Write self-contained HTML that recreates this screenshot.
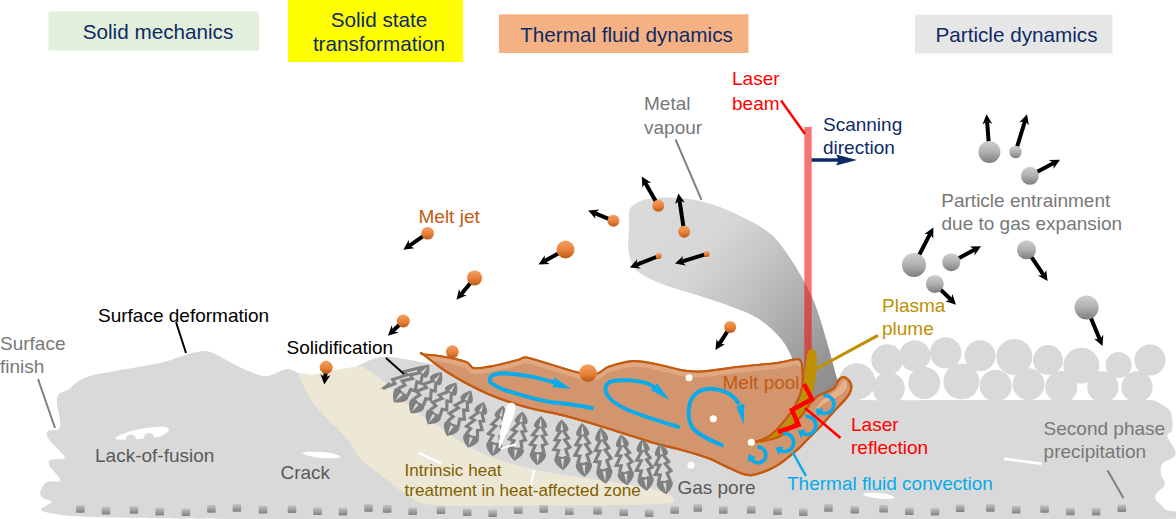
<!DOCTYPE html><html><head><meta charset="utf-8"><style>html,body{margin:0;padding:0;background:#fff;overflow:hidden;}svg{display:block;font-family:"Liberation Sans",sans-serif;}</style></head><body>
<svg width="1176" height="519" viewBox="0 0 1176 519">
<rect width="1176" height="519" fill="#fff"/>
<defs>
<radialGradient id="gball" cx="0.45" cy="0.3" r="0.75">
<stop offset="0" stop-color="#d0d0d0"/><stop offset="0.55" stop-color="#b4b4b4"/><stop offset="1" stop-color="#7a7a7a"/></radialGradient>
<linearGradient id="gball2" x1="0" y1="0" x2="0" y2="1">
<stop offset="0" stop-color="#cfcfcf"/><stop offset="0.5" stop-color="#b0b0b0"/><stop offset="1" stop-color="#7d7d7d"/></linearGradient>
<linearGradient id="oball" x1="0" y1="0" x2="0" y2="1">
<stop offset="0" stop-color="#f4a060"/><stop offset="0.55" stop-color="#e9803a"/><stop offset="1" stop-color="#b85a18"/></linearGradient>
<linearGradient id="sq" x1="0" y1="0" x2="0" y2="1">
<stop offset="0" stop-color="#c4c4c4"/><stop offset="1" stop-color="#808080"/></linearGradient>
<linearGradient id="plume" x1="0.15" y1="0.1" x2="0.9" y2="0.85">
<stop offset="0" stop-color="#dadada"/><stop offset="0.22" stop-color="#d6d6d6"/><stop offset="0.45" stop-color="#c2c2c2"/><stop offset="0.72" stop-color="#a6a6a6"/><stop offset="0.9" stop-color="#939393"/><stop offset="1" stop-color="#8a8a8a"/></linearGradient>
<linearGradient id="pool" x1="0" y1="0" x2="0" y2="1">
<stop offset="0" stop-color="#e3aa80"/><stop offset="0.3" stop-color="#d39670"/><stop offset="1" stop-color="#d09570"/></linearGradient>
<marker id="ah" viewBox="0 0 10 10" refX="2" refY="5" markerWidth="3" markerHeight="3" orient="auto"><path d="M0,0 L10,5 L0,10 z" fill="#000"/></marker>
</defs>
<rect x="48.5" y="11.5" width="210.5" height="39" fill="#e2efda"/>
<text x="158" y="39" font-size="20.7" fill="#0e2a66" text-anchor="middle" >Solid mechanics</text>
<rect x="288" y="0" width="175" height="62" fill="#ffff00"/>
<text x="379" y="26.5" font-size="20.7" fill="#0e2a66" text-anchor="middle" >Solid state</text>
<text x="379" y="51" font-size="20.7" fill="#0e2a66" text-anchor="middle" >transformation</text>
<rect x="499" y="14.3" width="249.5" height="38.7" fill="#f4b183"/>
<text x="626.5" y="42" font-size="20.7" fill="#0e2a66" text-anchor="middle" >Thermal fluid dynamics</text>
<rect x="915" y="14.6" width="197.5" height="38.8" fill="#e7e6e6"/>
<text x="1016.5" y="42" font-size="20.7" fill="#0e2a66" text-anchor="middle" >Particle dynamics</text>
<path d="M58.9,394.3 C60.8,391.9 65.6,391.4 68.5,389.5 C71.4,387.6 72.6,384.9 76.2,382.7 C79.8,380.4 83.0,378.0 90.0,376.0 C97.0,374.0 106.0,372.8 118.0,370.5 C130.0,368.2 150.8,365.1 162.0,362.5 C173.2,359.9 178.7,356.8 185.0,355.0 C191.3,353.2 195.3,351.8 200.0,351.5 C204.7,351.2 206.2,350.3 213.0,353.0 C219.8,355.7 232.0,363.8 240.5,367.6 C249.0,371.4 258.1,375.1 264.0,376.0 C269.9,376.9 272.0,374.2 276.0,373.0 C280.0,371.8 283.7,368.8 288.0,369.0 C292.3,369.2 297.5,373.2 302.0,374.4 C306.5,375.6 308.8,376.1 315.0,376.0 C321.2,375.9 329.3,376.8 339.0,374.0 C348.7,371.2 364.5,361.8 373.0,359.0 C381.5,356.2 381.5,356.4 390.0,357.0 C398.5,357.6 410.7,360.3 424.0,362.5 C437.3,364.7 440.7,367.1 470.0,370.0 C499.3,372.9 546.7,379.7 600.0,380.0 C653.3,380.3 749.0,371.2 790.0,372.0 C831.0,372.8 835.7,380.5 846.0,385.0 C856.3,389.5 834.7,396.5 852.0,399.0 C869.3,401.5 908.7,399.8 950.0,400.0 C991.3,400.2 1066.9,400.0 1100.0,400.0 C1133.1,400.0 1138.3,399.2 1148.7,400.0 C1159.1,400.8 1158.6,402.9 1162.3,405.0 C1166.0,407.1 1169.3,408.3 1171.0,412.4 C1172.7,416.5 1172.9,425.9 1172.3,429.8 C1171.7,433.7 1166.9,432.7 1167.3,436.0 C1167.7,439.3 1173.7,446.2 1174.8,449.7 C1175.9,453.2 1176.1,454.7 1174.0,457.0 C1171.9,459.3 1164.5,460.5 1162.3,463.4 C1160.1,466.3 1160.6,471.1 1161.0,474.6 C1161.4,478.1 1165.8,480.8 1164.8,484.5 C1163.8,488.2 1154.9,492.9 1154.9,497.0 C1154.9,501.1 1163.3,505.7 1164.8,509.4 C1166.2,513.1 1307.7,517.4 1163.6,519.0 C1019.5,520.6 472.3,519.2 300.0,519.0 C127.7,518.8 165.6,518.1 130.0,517.7 C94.4,517.3 98.7,517.2 86.7,516.7 C74.8,516.2 65.9,515.6 58.3,514.4 C50.7,513.2 42.1,511.8 41.0,509.7 C39.9,507.6 51.5,504.1 51.7,502.0 C51.9,499.9 44.2,499.1 42.3,497.4 C40.4,495.7 39.6,494.3 40.4,491.7 C41.2,489.1 43.7,483.7 47.0,482.0 C50.3,480.3 58.5,482.5 60.2,481.3 C61.9,480.1 58.2,476.9 57.0,475.0 C55.8,473.1 54.0,471.6 52.7,470.0 C51.4,468.4 49.7,467.3 49.3,465.6 C48.9,463.9 47.6,461.1 50.2,459.8 C52.8,458.5 63.9,460.1 64.7,457.9 C65.5,455.6 57.9,449.8 55.0,446.3 C52.1,442.8 48.4,439.3 47.3,436.7 C46.2,434.1 46.4,432.2 48.3,430.9 C50.2,429.6 57.0,430.9 58.9,429.0 C60.8,427.1 60.2,423.5 59.9,419.3 C59.6,415.1 57.2,408.1 57.0,403.9 C56.8,399.7 57.0,396.7 58.9,394.3 Z" fill="#d9d9d9"/>
<circle cx="887" cy="360" r="15.7" fill="#d9d9d9"/>
<circle cx="914.9" cy="355.7" r="15.5" fill="#d9d9d9"/>
<circle cx="945.7" cy="352.9" r="15.7" fill="#d9d9d9"/>
<circle cx="980" cy="355.7" r="15.5" fill="#d9d9d9"/>
<circle cx="1014.3" cy="357" r="18" fill="#d9d9d9"/>
<circle cx="1048" cy="360" r="15" fill="#d9d9d9"/>
<circle cx="1081.4" cy="365.7" r="18" fill="#d9d9d9"/>
<circle cx="1118.6" cy="365" r="13" fill="#d9d9d9"/>
<circle cx="1150" cy="360" r="15.5" fill="#d9d9d9"/>
<circle cx="857" cy="381.4" r="18" fill="#d9d9d9"/>
<circle cx="888.6" cy="388.6" r="16" fill="#d9d9d9"/>
<circle cx="924.3" cy="382.9" r="16" fill="#d9d9d9"/>
<circle cx="961.4" cy="381.4" r="18" fill="#d9d9d9"/>
<circle cx="995.7" cy="385.7" r="16" fill="#d9d9d9"/>
<circle cx="1028.6" cy="384.3" r="16" fill="#d9d9d9"/>
<circle cx="1061.4" cy="387" r="16" fill="#d9d9d9"/>
<circle cx="1102.9" cy="387" r="15.7" fill="#d9d9d9"/>
<circle cx="1137" cy="387" r="15.7" fill="#d9d9d9"/>
<path d="M299.2,373.5 C300.7,371.6 306.8,375.3 313.0,374.7 C319.2,374.1 328.5,371.4 336.2,370.0 C343.9,368.6 354.4,366.8 359.4,366.6 C364.4,366.4 363.2,367.3 366.3,369.0 C369.4,370.7 374.0,374.1 377.9,377.0 C381.8,379.9 385.5,382.7 389.4,386.2 C393.2,389.7 396.0,393.2 401.0,397.8 C406.0,402.4 413.0,409.1 419.5,414.0 C426.0,418.9 432.8,422.6 440.0,427.5 C447.2,432.4 455.4,439.0 463.0,443.6 C470.6,448.2 478.3,451.8 485.9,455.0 C493.5,458.2 501.2,460.7 508.8,463.0 C516.4,465.3 524.1,467.1 531.7,468.8 C539.4,470.5 547.1,472.1 554.7,473.4 C562.4,474.7 570.0,475.6 577.6,476.8 C585.2,478.0 592.9,479.2 600.5,480.3 C608.1,481.4 615.9,482.4 623.5,483.7 C631.1,485.0 639.1,486.8 646.4,488.3 C653.6,489.9 662.4,491.2 667.0,493.0 C671.6,494.8 674.2,497.2 674.0,499.0 C673.8,500.8 675.0,502.5 666.0,503.5 C657.0,504.5 644.7,504.7 620.0,505.0 C595.3,505.3 549.2,505.5 518.0,505.5 C486.8,505.5 451.2,506.6 433.0,505.0 C414.8,503.4 417.5,500.8 409.0,496.0 C400.5,491.2 389.9,482.0 382.0,476.0 C374.1,470.0 367.4,466.1 361.7,460.0 C356.0,453.9 353.2,445.9 347.8,439.4 C342.4,432.9 335.1,427.2 329.3,421.0 C323.5,414.8 317.3,408.2 313.1,402.4 C308.9,396.6 306.2,391.0 303.9,386.2 C301.6,381.4 297.7,375.4 299.2,373.5 Z" fill="#ede7d5"/>
<path d="M629,210 C634,203 642,199 655,198 C680,196 705,200 727,210 C750,220 765,228 775,238 C790,255 803,278 812,297 C820,315 828,345 838,382 L845,400 L770,445 L800,392 C798,370 790,350 782,340 C770,325 755,315 740,310 C720,302 700,296 680,290 C665,286 645,278 636,270 C626,258 628,240 629,228 Z" fill="url(#plume)"/>
<path d="M835,395 L860,395 L860,420 L835,420 Z" fill="#d9d9d9"/>
<circle cx="857" cy="381.4" r="18" fill="#d9d9d9"/>
<circle cx="888.6" cy="388.6" r="16" fill="#d9d9d9"/>
<path d="M423.5,354.5 C419.3,351.4 420.9,354.2 423.5,354.5 C426.1,354.8 431.9,354.8 439.0,356.0 C446.1,357.2 460.2,360.0 466.0,362.0 C471.8,364.0 469.4,367.5 473.6,368.2 C477.8,368.9 483.6,367.8 491.0,366.4 C498.4,365.0 512.2,361.5 518.0,360.0 C523.8,358.5 521.5,357.0 526.0,357.5 C530.5,358.0 536.1,360.2 545.0,362.8 C553.9,365.4 570.9,371.2 579.6,373.0 C588.4,374.8 592.6,374.5 597.5,373.5 C602.4,372.5 602.8,368.9 608.7,366.8 C614.6,364.8 625.2,361.7 633.0,361.2 C640.8,360.7 647.1,362.4 655.5,364.0 C663.9,365.6 675.8,369.4 683.5,370.6 C691.2,371.9 692.6,372.1 702.0,371.5 C711.4,370.9 727.2,368.2 739.7,366.8 C752.2,365.4 767.6,364.2 777.0,363.0 C786.4,361.8 791.8,359.6 795.8,359.4 C799.8,359.1 799.9,359.7 801.0,361.5 C802.1,363.3 802.2,366.2 802.5,370.0 C802.8,373.8 803.0,380.2 802.5,384.5 C802.0,388.8 801.2,391.9 799.6,396.0 C798.0,400.1 795.6,404.9 793.1,409.0 C790.6,413.1 787.4,417.0 784.5,420.6 C781.6,424.2 778.5,428.0 775.8,430.7 C773.0,433.4 771.2,435.2 768.0,437.0 C764.8,438.8 758.6,440.8 756.7,441.6 C754.8,442.4 754.5,442.0 756.7,441.6 C758.9,441.2 766.3,440.4 770.0,439.5 C773.7,438.6 776.1,438.0 779.0,436.5 C781.9,435.0 784.5,433.1 787.3,430.7 C790.1,428.3 793.4,424.9 796.0,422.0 C798.6,419.1 800.8,416.5 803.2,413.4 C805.6,410.3 808.1,406.1 810.5,403.2 C812.9,400.3 814.8,397.9 817.7,396.0 C820.6,394.1 825.2,392.9 828.0,391.5 C830.8,390.1 832.7,389.5 834.5,387.5 C836.3,385.5 837.5,381.2 839.0,379.5 C840.5,377.8 842.0,377.0 843.5,377.0 C845.0,377.0 846.7,378.1 848.0,379.5 C849.3,380.9 851.0,383.2 851.3,385.5 C851.6,387.8 850.8,390.7 849.8,393.0 C848.8,395.3 848.0,396.1 845.1,399.5 C842.2,402.9 836.4,408.7 832.1,413.4 C827.8,418.1 823.7,423.0 819.1,427.8 C814.5,432.6 808.6,438.4 804.7,442.3 C800.8,446.2 800.5,447.1 795.8,451.0 C791.1,454.9 782.8,462.2 776.3,466.0 C769.8,469.8 762.2,472.6 757.0,474.0 C751.8,475.4 750.3,475.8 745.0,474.5 C739.7,473.2 731.2,468.8 725.0,466.0 C718.8,463.2 715.5,460.8 708.0,458.0 C700.5,455.2 689.0,452.0 680.0,449.5 C671.0,447.0 667.3,446.9 654.0,443.0 C640.7,439.1 615.0,430.6 600.0,426.0 C585.0,421.4 576.4,418.7 564.0,415.5 C551.6,412.3 538.4,410.7 525.6,407.0 C512.8,403.3 499.9,399.2 487.0,393.5 C474.1,387.8 459.1,379.5 448.5,373.0 C437.9,366.5 427.7,357.6 423.5,354.5 Z" fill="#d3956d" stroke="#c55a11" stroke-width="2.2" stroke-linejoin="round"/>
<clipPath id="pclip"><path d="M423.5,354.5 C419.3,351.4 420.9,354.2 423.5,354.5 C426.1,354.8 431.9,354.8 439.0,356.0 C446.1,357.2 460.2,360.0 466.0,362.0 C471.8,364.0 469.4,367.5 473.6,368.2 C477.8,368.9 483.6,367.8 491.0,366.4 C498.4,365.0 512.2,361.5 518.0,360.0 C523.8,358.5 521.5,357.0 526.0,357.5 C530.5,358.0 536.1,360.2 545.0,362.8 C553.9,365.4 570.9,371.2 579.6,373.0 C588.4,374.8 592.6,374.5 597.5,373.5 C602.4,372.5 602.8,368.9 608.7,366.8 C614.6,364.8 625.2,361.7 633.0,361.2 C640.8,360.7 647.1,362.4 655.5,364.0 C663.9,365.6 675.8,369.4 683.5,370.6 C691.2,371.9 692.6,372.1 702.0,371.5 C711.4,370.9 727.2,368.2 739.7,366.8 C752.2,365.4 767.6,364.2 777.0,363.0 C786.4,361.8 791.8,359.6 795.8,359.4 C799.8,359.1 799.9,359.7 801.0,361.5 C802.1,363.3 802.2,366.2 802.5,370.0 C802.8,373.8 803.0,380.2 802.5,384.5 C802.0,388.8 801.2,391.9 799.6,396.0 C798.0,400.1 795.6,404.9 793.1,409.0 C790.6,413.1 787.4,417.0 784.5,420.6 C781.6,424.2 778.5,428.0 775.8,430.7 C773.0,433.4 771.2,435.2 768.0,437.0 C764.8,438.8 758.6,440.8 756.7,441.6 C754.8,442.4 754.5,442.0 756.7,441.6 C758.9,441.2 766.3,440.4 770.0,439.5 C773.7,438.6 776.1,438.0 779.0,436.5 C781.9,435.0 784.5,433.1 787.3,430.7 C790.1,428.3 793.4,424.9 796.0,422.0 C798.6,419.1 800.8,416.5 803.2,413.4 C805.6,410.3 808.1,406.1 810.5,403.2 C812.9,400.3 814.8,397.9 817.7,396.0 C820.6,394.1 825.2,392.9 828.0,391.5 C830.8,390.1 832.7,389.5 834.5,387.5 C836.3,385.5 837.5,381.2 839.0,379.5 C840.5,377.8 842.0,377.0 843.5,377.0 C845.0,377.0 846.7,378.1 848.0,379.5 C849.3,380.9 851.0,383.2 851.3,385.5 C851.6,387.8 850.8,390.7 849.8,393.0 C848.8,395.3 848.0,396.1 845.1,399.5 C842.2,402.9 836.4,408.7 832.1,413.4 C827.8,418.1 823.7,423.0 819.1,427.8 C814.5,432.6 808.6,438.4 804.7,442.3 C800.8,446.2 800.5,447.1 795.8,451.0 C791.1,454.9 782.8,462.2 776.3,466.0 C769.8,469.8 762.2,472.6 757.0,474.0 C751.8,475.4 750.3,475.8 745.0,474.5 C739.7,473.2 731.2,468.8 725.0,466.0 C718.8,463.2 715.5,460.8 708.0,458.0 C700.5,455.2 689.0,452.0 680.0,449.5 C671.0,447.0 667.3,446.9 654.0,443.0 C640.7,439.1 615.0,430.6 600.0,426.0 C585.0,421.4 576.4,418.7 564.0,415.5 C551.6,412.3 538.4,410.7 525.6,407.0 C512.8,403.3 499.9,399.2 487.0,393.5 C474.1,387.8 459.1,379.5 448.5,373.0 C437.9,366.5 427.7,357.6 423.5,354.5 Z"/></clipPath>
<path d="M423.5,357.7 C426.1,357.9 431.9,357.9 439.0,359.2 C446.1,360.4 460.2,363.2 466.0,365.2 C471.8,367.2 469.4,370.7 473.6,371.4 C477.8,372.1 483.6,371.0 491.0,369.6 C498.4,368.2 512.2,364.7 518.0,363.2 C523.8,361.7 521.5,360.2 526.0,360.7 C530.5,361.2 536.1,363.4 545.0,366.0 C553.9,368.6 570.9,374.4 579.6,376.2 C588.4,378.0 592.6,377.7 597.5,376.7 C602.4,375.7 602.8,372.1 608.7,370.0 C614.6,367.9 625.2,364.9 633.0,364.4 C640.8,363.9 647.1,365.6 655.5,367.2 C663.9,368.8 675.8,372.6 683.5,373.8 C691.2,375.1 692.6,375.3 702.0,374.7 C711.4,374.1 727.2,371.4 739.7,370.0 C752.2,368.6 767.6,367.4 777.0,366.2 C786.4,365.0 791.8,362.8 795.8,362.6 C799.8,362.3 800.1,364.3 801.0,364.7 " fill="none" stroke="#e0a881" stroke-width="5" clip-path="url(#pclip)"/>
<path d="M844,380 C847,381 848,385 846,389 C843,394 838,397 832,399 C826,402 820,406 814,412 C818,404 824,397 832,393 C838,390 841,384 844,380 Z" fill="#e8b793" opacity="0.85"/>
<rect x="804.3" y="127" width="7.4" height="260" fill="#ee1111" opacity="0.58"/>
<path d="M812,349 C815.5,349 817,353 816.8,362 C816.5,378 814,392 808,406 C801,420 791,430 776,438 C770,441 764,443 758.5,443 C763,441 767,438 770,436 C775,432 780,429 786,422 C790,417 793,412 797.8,403.6 C801,398 803,393 803.6,385 C804,378 805,372 806,362 C806.5,354 808.5,349 812,349 Z" fill="#c09000"/>
<path d="M423.5,354.5 C419.3,351.4 420.9,354.2 423.5,354.5 C426.1,354.8 431.9,354.8 439.0,356.0 C446.1,357.2 460.2,360.0 466.0,362.0 C471.8,364.0 469.4,367.5 473.6,368.2 C477.8,368.9 483.6,367.8 491.0,366.4 C498.4,365.0 512.2,361.5 518.0,360.0 C523.8,358.5 521.5,357.0 526.0,357.5 C530.5,358.0 536.1,360.2 545.0,362.8 C553.9,365.4 570.9,371.2 579.6,373.0 C588.4,374.8 592.6,374.5 597.5,373.5 C602.4,372.5 602.8,368.9 608.7,366.8 C614.6,364.8 625.2,361.7 633.0,361.2 C640.8,360.7 647.1,362.4 655.5,364.0 C663.9,365.6 675.8,369.4 683.5,370.6 C691.2,371.9 692.6,372.1 702.0,371.5 C711.4,370.9 727.2,368.2 739.7,366.8 C752.2,365.4 767.6,364.2 777.0,363.0 C786.4,361.8 791.8,359.6 795.8,359.4 C799.8,359.1 799.9,359.7 801.0,361.5 C802.1,363.3 802.2,366.2 802.5,370.0 C802.8,373.8 803.0,380.2 802.5,384.5 C802.0,388.8 801.2,391.9 799.6,396.0 C798.0,400.1 795.6,404.9 793.1,409.0 C790.6,413.1 787.4,417.0 784.5,420.6 C781.6,424.2 778.5,428.0 775.8,430.7 C773.0,433.4 771.2,435.2 768.0,437.0 C764.8,438.8 758.6,440.8 756.7,441.6 C754.8,442.4 754.5,442.0 756.7,441.6 C758.9,441.2 766.3,440.4 770.0,439.5 C773.7,438.6 776.1,438.0 779.0,436.5 C781.9,435.0 784.5,433.1 787.3,430.7 C790.1,428.3 793.4,424.9 796.0,422.0 C798.6,419.1 800.8,416.5 803.2,413.4 C805.6,410.3 808.1,406.1 810.5,403.2 C812.9,400.3 814.8,397.9 817.7,396.0 C820.6,394.1 825.2,392.9 828.0,391.5 C830.8,390.1 832.7,389.5 834.5,387.5 C836.3,385.5 837.5,381.2 839.0,379.5 C840.5,377.8 842.0,377.0 843.5,377.0 C845.0,377.0 846.7,378.1 848.0,379.5 C849.3,380.9 851.0,383.2 851.3,385.5 C851.6,387.8 850.8,390.7 849.8,393.0 C848.8,395.3 848.0,396.1 845.1,399.5 C842.2,402.9 836.4,408.7 832.1,413.4 C827.8,418.1 823.7,423.0 819.1,427.8 C814.5,432.6 808.6,438.4 804.7,442.3 C800.8,446.2 800.5,447.1 795.8,451.0 C791.1,454.9 782.8,462.2 776.3,466.0 C769.8,469.8 762.2,472.6 757.0,474.0 C751.8,475.4 750.3,475.8 745.0,474.5 C739.7,473.2 731.2,468.8 725.0,466.0 C718.8,463.2 715.5,460.8 708.0,458.0 C700.5,455.2 689.0,452.0 680.0,449.5 C671.0,447.0 667.3,446.9 654.0,443.0 C640.7,439.1 615.0,430.6 600.0,426.0 C585.0,421.4 576.4,418.7 564.0,415.5 C551.6,412.3 538.4,410.7 525.6,407.0 C512.8,403.3 499.9,399.2 487.0,393.5 C474.1,387.8 459.1,379.5 448.5,373.0 C437.9,366.5 427.7,357.6 423.5,354.5 Z" fill="none" stroke="#c55a11" stroke-width="2" stroke-linejoin="round"/>
<line x1="816" y1="369" x2="878" y2="335.4" stroke="#c09000" stroke-width="3"/>
<path d="M811.5,158.3 L838,158.3 L836,154.5 L857,160 L836,165.5 L838,161.7 L811.5,161.7 Z" fill="#0e2a66"/>
<line x1="781" y1="100.5" x2="805" y2="134" stroke="#ff0000" stroke-width="2.5"/>
<polyline points="804,384 812,399 792,410 798.5,425 778,432" fill="none" stroke="#ff0000" stroke-width="4.5" stroke-linejoin="miter"/>
<line x1="805" y1="408" x2="840.5" y2="438" stroke="#ff0000" stroke-width="2.6"/>
<path d="M593.5,407 C580,404 565,402 553.5,401 C540,399 532,396.5 524,394.3 C512,391 505,389 499.7,386.4 C494,383.5 489,381 489.9,378.6 C490,375 491,373.6 495,373 C498,372 502,371.8 504.6,371.8 C512,372 520,373.2 529,374.7 C536,376 542,378 555,381" fill="none" stroke="#05abeb" stroke-width="3.9" transform="translate(0,1.5)"/>
<path d="M571.1,387.6 L553.5,375.3 L555.4,380.6 L552,385.5 Z" fill="#05abeb" transform="translate(0,1.5)"/>
<path d="M679.9,427.3 C665,423 645,417 628,410 C615,404 606,398 605.5,390 C605.5,384 608,382 613,381 C622,379.5 638,380 648.6,383.9 C651,385 653,386 655,387.5" fill="none" stroke="#05abeb" stroke-width="3.9"/>
<path d="M669.4,400 L656.7,382.8 L655,387.5 L650.5,390 Z" fill="#05abeb"/>
<path d="M723.3,445.8 C712,441 700,436 693,428.4 C689,422 688,416 688.7,411 C689,404 691,398 694.4,395.2 C698,391 703,389 708.9,388.7 C715,388.5 721,390 726.2,392.3 C732,395 736,399 739,404" fill="none" stroke="#05abeb" stroke-width="3.9"/>
<path d="M743.5,424.8 L744.5,403.5 L740.5,405 L736.5,406.5 Z" fill="#05abeb"/>
<path d="M757.4,447.2 A7.8,7.8 0 1 1 751.3,458.9" fill="none" stroke="#05abeb" stroke-width="3.6"/>
<path d="M748.6,454.1 L747.7,462.2 L756.0,457.4 Z" fill="#05abeb"/>
<path d="M783.1,433.6 A9,9 0 1 1 780.2,450.3" fill="none" stroke="#05abeb" stroke-width="3.6"/>
<path d="M775.4,447.5 L778.7,455.0 L783.5,446.6 Z" fill="#05abeb"/>
<path d="M805.4,416.6 A9,9 0 1 1 802.5,433.3" fill="none" stroke="#05abeb" stroke-width="3.6"/>
<path d="M797.7,430.5 L801.0,438.0 L805.8,429.6 Z" fill="#05abeb"/>
<path d="M823.4,395.6 A9,9 0 1 1 819.8,411.9" fill="none" stroke="#05abeb" stroke-width="3.6"/>
<path d="M815.3,408.7 L817.9,416.4 L823.4,408.5 Z" fill="#05abeb"/>
<line x1="792.5" y1="452" x2="806" y2="476" stroke="#05abeb" stroke-width="2.5"/>
<circle cx="689" cy="377.7" r="3.5" fill="#fff"/>
<circle cx="713.3" cy="418.7" r="3.5" fill="#fff"/>
<circle cx="751.3" cy="442.3" r="3.5" fill="#fff"/>
<circle cx="691" cy="465.3" r="3.5" fill="#fff"/>
<path d="M115.2,437.8 C122,433 135,429.5 150,427.5 C158,426.5 166,426 168.5,428 C170,431 166,434 160,436.5 C150,438.5 135,439.5 118,439.7 C116,439.5 115,438.5 115.2,437.8 Z" fill="#fff"/>
<circle cx="130.8" cy="439.6" r="5" fill="#d9d9d9"/><circle cx="149" cy="437.9" r="5" fill="#d9d9d9"/>
<ellipse cx="321.5" cy="455" rx="19" ry="2.9" transform="rotate(5 321.5 455)" fill="#fff"/>
<line x1="1005" y1="458.9" x2="1040.4" y2="463.6" stroke="#fff" stroke-width="2.6" stroke-linecap="round"/>
<ellipse cx="879" cy="495.8" rx="15.5" ry="2.8" transform="rotate(6 879 495.8)" fill="#fff"/>
<rect x="76.10000000000001" y="505.09999999999997" width="8.6" height="7.6" rx="1" fill="url(#sq)"/>
<rect x="101.7" y="506.8" width="8.6" height="7.6" rx="1" fill="url(#sq)"/>
<rect x="129.7" y="506.2" width="8.6" height="7.6" rx="1" fill="url(#sq)"/>
<rect x="155.39999999999998" y="507.8" width="8.6" height="7.6" rx="1" fill="url(#sq)"/>
<rect x="181.6" y="508.49999999999994" width="8.6" height="7.6" rx="1" fill="url(#sq)"/>
<rect x="207.1" y="505.09999999999997" width="8.6" height="7.6" rx="1" fill="url(#sq)"/>
<rect x="232.6" y="504.09999999999997" width="8.6" height="7.6" rx="1" fill="url(#sq)"/>
<rect x="258.7" y="505.8" width="8.6" height="7.6" rx="1" fill="url(#sq)"/>
<rect x="287.7" y="505.5" width="8.6" height="7.6" rx="1" fill="url(#sq)"/>
<rect x="313.2" y="507.5" width="8.6" height="7.6" rx="1" fill="url(#sq)"/>
<rect x="338.7" y="507.8" width="8.6" height="7.6" rx="1" fill="url(#sq)"/>
<rect x="364.2" y="504.09999999999997" width="8.6" height="7.6" rx="1" fill="url(#sq)"/>
<rect x="382.9" y="505.09999999999997" width="8.6" height="7.6" rx="1" fill="url(#sq)"/>
<rect x="408.4" y="507.5" width="8.6" height="7.6" rx="1" fill="url(#sq)"/>
<rect x="436.7" y="506.5" width="8.6" height="7.6" rx="1" fill="url(#sq)"/>
<rect x="462.9" y="508.49999999999994" width="8.6" height="7.6" rx="1" fill="url(#sq)"/>
<rect x="488.4" y="509.49999999999994" width="8.6" height="7.6" rx="1" fill="url(#sq)"/>
<rect x="513.9000000000001" y="506.2" width="8.6" height="7.6" rx="1" fill="url(#sq)"/>
<rect x="539.4000000000001" y="505.09999999999997" width="8.6" height="7.6" rx="1" fill="url(#sq)"/>
<rect x="565.0" y="507.5" width="8.6" height="7.6" rx="1" fill="url(#sq)"/>
<rect x="593.2" y="506.8" width="8.6" height="7.6" rx="1" fill="url(#sq)"/>
<rect x="619.4000000000001" y="508.49999999999994" width="8.6" height="7.6" rx="1" fill="url(#sq)"/>
<rect x="644.9000000000001" y="509.49999999999994" width="8.6" height="7.6" rx="1" fill="url(#sq)"/>
<rect x="670.4000000000001" y="506.2" width="8.6" height="7.6" rx="1" fill="url(#sq)"/>
<rect x="693.5" y="504.09999999999997" width="8.6" height="7.6" rx="1" fill="url(#sq)"/>
<rect x="719.0" y="506.2" width="8.6" height="7.6" rx="1" fill="url(#sq)"/>
<rect x="746.9000000000001" y="505.8" width="8.6" height="7.6" rx="1" fill="url(#sq)"/>
<rect x="773.1" y="507.5" width="8.6" height="7.6" rx="1" fill="url(#sq)"/>
<rect x="799.0" y="508.49999999999994" width="8.6" height="7.6" rx="1" fill="url(#sq)"/>
<rect x="824.1" y="504.09999999999997" width="8.6" height="7.6" rx="1" fill="url(#sq)"/>
<rect x="850.5" y="505.9" width="8.6" height="7.6" rx="1" fill="url(#sq)"/>
<rect x="879.3000000000001" y="505.0" width="8.6" height="7.6" rx="1" fill="url(#sq)"/>
<rect x="905.0" y="507.4" width="8.6" height="7.6" rx="1" fill="url(#sq)"/>
<rect x="930.7" y="508.0" width="8.6" height="7.6" rx="1" fill="url(#sq)"/>
<rect x="955.9000000000001" y="504.4" width="8.6" height="7.6" rx="1" fill="url(#sq)"/>
<rect x="986.1" y="504.09999999999997" width="8.6" height="7.6" rx="1" fill="url(#sq)"/>
<rect x="1011.9000000000001" y="505.9" width="8.6" height="7.6" rx="1" fill="url(#sq)"/>
<rect x="1040.3" y="505.2" width="8.6" height="7.6" rx="1" fill="url(#sq)"/>
<rect x="1066.1000000000001" y="507.7" width="8.6" height="7.6" rx="1" fill="url(#sq)"/>
<rect x="1091.8" y="508.0" width="8.6" height="7.6" rx="1" fill="url(#sq)"/>
<rect x="1117.5" y="504.4" width="8.6" height="7.6" rx="1" fill="url(#sq)"/>
<g transform="translate(429.3,365.0) rotate(42.4) scale(1.08,0.990)"><path d="M0,0 C-3.5,3.5 -6.5,8 -6,11 C-5.5,13 -2.5,13.5 0,12.5 C2.5,13.5 5.5,13 6,11 C6.5,8 3.5,3.5 0,0 Z" fill="#808080"/><path d="M0,2.5 L-1.5,11 L1.2,11 Z" fill="#d9d9d9"/><path d="M-1.5,12 L-7,20.5 L-3,21.5 L-8.5,30.5 L-4,31.5 L-6.5,38.5" fill="none" stroke="#808080" stroke-width="3"/><path d="M1.5,12 L5.5,19.5 L2,21 L6.5,29 L2.5,31 L4.5,38.5" fill="none" stroke="#808080" stroke-width="3"/><path d="M-1,52 C-5.5,48.5 -9,44 -8.5,40 C-8,37.5 -4,37 -1,38.5 C2,37 6,37.5 6.5,40 C7,44 3.5,48.5 -1,52 Z" fill="#808080"/><path d="M-1,50 L-2.5,40.5 L0.5,40.5 Z" fill="#d9d9d9"/></g>
<g transform="translate(441.6,372.0) rotate(35.6) scale(1.08,0.993)"><path d="M0,0 C-3.5,3.5 -6.5,8 -6,11 C-5.5,13 -2.5,13.5 0,12.5 C2.5,13.5 5.5,13 6,11 C6.5,8 3.5,3.5 0,0 Z" fill="#808080"/><path d="M0,2.5 L-1.5,11 L1.2,11 Z" fill="#d9d9d9"/><path d="M-1.5,12 L-7,20.5 L-3,21.5 L-8.5,30.5 L-4,31.5 L-6.5,38.5" fill="none" stroke="#808080" stroke-width="3"/><path d="M1.5,12 L5.5,19.5 L2,21 L6.5,29 L2.5,31 L4.5,38.5" fill="none" stroke="#808080" stroke-width="3"/><path d="M-1,52 C-5.5,48.5 -9,44 -8.5,40 C-8,37.5 -4,37 -1,38.5 C2,37 6,37.5 6.5,40 C7,44 3.5,48.5 -1,52 Z" fill="#808080"/><path d="M-1,50 L-2.5,40.5 L0.5,40.5 Z" fill="#d9d9d9"/></g>
<g transform="translate(456.3,382.7) rotate(33.3) scale(1.08,0.968)"><path d="M0,0 C-3.5,3.5 -6.5,8 -6,11 C-5.5,13 -2.5,13.5 0,12.5 C2.5,13.5 5.5,13 6,11 C6.5,8 3.5,3.5 0,0 Z" fill="#808080"/><path d="M0,2.5 L-1.5,11 L1.2,11 Z" fill="#d9d9d9"/><path d="M-1.5,12 L-7,20.5 L-3,21.5 L-8.5,30.5 L-4,31.5 L-6.5,38.5" fill="none" stroke="#808080" stroke-width="3"/><path d="M1.5,12 L5.5,19.5 L2,21 L6.5,29 L2.5,31 L4.5,38.5" fill="none" stroke="#808080" stroke-width="3"/><path d="M-1,52 C-5.5,48.5 -9,44 -8.5,40 C-8,37.5 -4,37 -1,38.5 C2,37 6,37.5 6.5,40 C7,44 3.5,48.5 -1,52 Z" fill="#808080"/><path d="M-1,50 L-2.5,40.5 L0.5,40.5 Z" fill="#d9d9d9"/></g>
<g transform="translate(471.0,390.4) rotate(26.6) scale(1.08,0.993)"><path d="M0,0 C-3.5,3.5 -6.5,8 -6,11 C-5.5,13 -2.5,13.5 0,12.5 C2.5,13.5 5.5,13 6,11 C6.5,8 3.5,3.5 0,0 Z" fill="#808080"/><path d="M0,2.5 L-1.5,11 L1.2,11 Z" fill="#d9d9d9"/><path d="M-1.5,12 L-7,20.5 L-3,21.5 L-8.5,30.5 L-4,31.5 L-6.5,38.5" fill="none" stroke="#808080" stroke-width="3"/><path d="M1.5,12 L5.5,19.5 L2,21 L6.5,29 L2.5,31 L4.5,38.5" fill="none" stroke="#808080" stroke-width="3"/><path d="M-1,52 C-5.5,48.5 -9,44 -8.5,40 C-8,37.5 -4,37 -1,38.5 C2,37 6,37.5 6.5,40 C7,44 3.5,48.5 -1,52 Z" fill="#808080"/><path d="M-1,50 L-2.5,40.5 L0.5,40.5 Z" fill="#d9d9d9"/></g>
<g transform="translate(483.6,402.0) rotate(17.5) scale(1.08,0.929)"><path d="M0,0 C-3.5,3.5 -6.5,8 -6,11 C-5.5,13 -2.5,13.5 0,12.5 C2.5,13.5 5.5,13 6,11 C6.5,8 3.5,3.5 0,0 Z" fill="#808080"/><path d="M0,2.5 L-1.5,11 L1.2,11 Z" fill="#d9d9d9"/><path d="M-1.5,12 L-7,20.5 L-3,21.5 L-8.5,30.5 L-4,31.5 L-6.5,38.5" fill="none" stroke="#808080" stroke-width="3"/><path d="M1.5,12 L5.5,19.5 L2,21 L6.5,29 L2.5,31 L4.5,38.5" fill="none" stroke="#808080" stroke-width="3"/><path d="M-1,52 C-5.5,48.5 -9,44 -8.5,40 C-8,37.5 -4,37 -1,38.5 C2,37 6,37.5 6.5,40 C7,44 3.5,48.5 -1,52 Z" fill="#808080"/><path d="M-1,50 L-2.5,40.5 L0.5,40.5 Z" fill="#d9d9d9"/></g>
<g transform="translate(503.0,405.7) rotate(10.7) scale(1.08,0.990)"><path d="M0,0 C-3.5,3.5 -6.5,8 -6,11 C-5.5,13 -2.5,13.5 0,12.5 C2.5,13.5 5.5,13 6,11 C6.5,8 3.5,3.5 0,0 Z" fill="#808080"/><path d="M0,2.5 L-1.5,11 L1.2,11 Z" fill="#d9d9d9"/><path d="M-1.5,12 L-7,20.5 L-3,21.5 L-8.5,30.5 L-4,31.5 L-6.5,38.5" fill="none" stroke="#808080" stroke-width="3"/><path d="M1.5,12 L5.5,19.5 L2,21 L6.5,29 L2.5,31 L4.5,38.5" fill="none" stroke="#808080" stroke-width="3"/><path d="M-1,52 C-5.5,48.5 -9,44 -8.5,40 C-8,37.5 -4,37 -1,38.5 C2,37 6,37.5 6.5,40 C7,44 3.5,48.5 -1,52 Z" fill="#808080"/><path d="M-1,50 L-2.5,40.5 L0.5,40.5 Z" fill="#d9d9d9"/></g>
<g transform="translate(522.6,411.5) rotate(8.4) scale(1.08,0.959)"><path d="M0,0 C-3.5,3.5 -6.5,8 -6,11 C-5.5,13 -2.5,13.5 0,12.5 C2.5,13.5 5.5,13 6,11 C6.5,8 3.5,3.5 0,0 Z" fill="#808080"/><path d="M0,2.5 L-1.5,11 L1.2,11 Z" fill="#d9d9d9"/><path d="M-1.5,12 L-7,20.5 L-3,21.5 L-8.5,30.5 L-4,31.5 L-6.5,38.5" fill="none" stroke="#808080" stroke-width="3"/><path d="M1.5,12 L5.5,19.5 L2,21 L6.5,29 L2.5,31 L4.5,38.5" fill="none" stroke="#808080" stroke-width="3"/><path d="M-1,52 C-5.5,48.5 -9,44 -8.5,40 C-8,37.5 -4,37 -1,38.5 C2,37 6,37.5 6.5,40 C7,44 3.5,48.5 -1,52 Z" fill="#808080"/><path d="M-1,50 L-2.5,40.5 L0.5,40.5 Z" fill="#d9d9d9"/></g>
<g transform="translate(541.0,416.0) rotate(2.9) scale(1.08,0.950)"><path d="M0,0 C-3.5,3.5 -6.5,8 -6,11 C-5.5,13 -2.5,13.5 0,12.5 C2.5,13.5 5.5,13 6,11 C6.5,8 3.5,3.5 0,0 Z" fill="#808080"/><path d="M0,2.5 L-1.5,11 L1.2,11 Z" fill="#d9d9d9"/><path d="M-1.5,12 L-7,20.5 L-3,21.5 L-8.5,30.5 L-4,31.5 L-6.5,38.5" fill="none" stroke="#808080" stroke-width="3"/><path d="M1.5,12 L5.5,19.5 L2,21 L6.5,29 L2.5,31 L4.5,38.5" fill="none" stroke="#808080" stroke-width="3"/><path d="M-1,52 C-5.5,48.5 -9,44 -8.5,40 C-8,37.5 -4,37 -1,38.5 C2,37 6,37.5 6.5,40 C7,44 3.5,48.5 -1,52 Z" fill="#808080"/><path d="M-1,50 L-2.5,40.5 L0.5,40.5 Z" fill="#d9d9d9"/></g>
<g transform="translate(561.5,419.5) rotate(-2.9) scale(1.08,0.974)"><path d="M0,0 C-3.5,3.5 -6.5,8 -6,11 C-5.5,13 -2.5,13.5 0,12.5 C2.5,13.5 5.5,13 6,11 C6.5,8 3.5,3.5 0,0 Z" fill="#808080"/><path d="M0,2.5 L-1.5,11 L1.2,11 Z" fill="#d9d9d9"/><path d="M-1.5,12 L-7,20.5 L-3,21.5 L-8.5,30.5 L-4,31.5 L-6.5,38.5" fill="none" stroke="#808080" stroke-width="3"/><path d="M1.5,12 L5.5,19.5 L2,21 L6.5,29 L2.5,31 L4.5,38.5" fill="none" stroke="#808080" stroke-width="3"/><path d="M-1,52 C-5.5,48.5 -9,44 -8.5,40 C-8,37.5 -4,37 -1,38.5 C2,37 6,37.5 6.5,40 C7,44 3.5,48.5 -1,52 Z" fill="#808080"/><path d="M-1,50 L-2.5,40.5 L0.5,40.5 Z" fill="#d9d9d9"/></g>
<g transform="translate(582.0,423.0) rotate(-3.9) scale(1.08,1.038)"><path d="M0,0 C-3.5,3.5 -6.5,8 -6,11 C-5.5,13 -2.5,13.5 0,12.5 C2.5,13.5 5.5,13 6,11 C6.5,8 3.5,3.5 0,0 Z" fill="#808080"/><path d="M0,2.5 L-1.5,11 L1.2,11 Z" fill="#d9d9d9"/><path d="M-1.5,12 L-7,20.5 L-3,21.5 L-8.5,30.5 L-4,31.5 L-6.5,38.5" fill="none" stroke="#808080" stroke-width="3"/><path d="M1.5,12 L5.5,19.5 L2,21 L6.5,29 L2.5,31 L4.5,38.5" fill="none" stroke="#808080" stroke-width="3"/><path d="M-1,52 C-5.5,48.5 -9,44 -8.5,40 C-8,37.5 -4,37 -1,38.5 C2,37 6,37.5 6.5,40 C7,44 3.5,48.5 -1,52 Z" fill="#808080"/><path d="M-1,50 L-2.5,40.5 L0.5,40.5 Z" fill="#d9d9d9"/></g>
<g transform="translate(600.5,427.5) rotate(-6.3) scale(1.08,1.087)"><path d="M0,0 C-3.5,3.5 -6.5,8 -6,11 C-5.5,13 -2.5,13.5 0,12.5 C2.5,13.5 5.5,13 6,11 C6.5,8 3.5,3.5 0,0 Z" fill="#808080"/><path d="M0,2.5 L-1.5,11 L1.2,11 Z" fill="#d9d9d9"/><path d="M-1.5,12 L-7,20.5 L-3,21.5 L-8.5,30.5 L-4,31.5 L-6.5,38.5" fill="none" stroke="#808080" stroke-width="3"/><path d="M1.5,12 L5.5,19.5 L2,21 L6.5,29 L2.5,31 L4.5,38.5" fill="none" stroke="#808080" stroke-width="3"/><path d="M-1,52 C-5.5,48.5 -9,44 -8.5,40 C-8,37.5 -4,37 -1,38.5 C2,37 6,37.5 6.5,40 C7,44 3.5,48.5 -1,52 Z" fill="#808080"/><path d="M-1,50 L-2.5,40.5 L0.5,40.5 Z" fill="#d9d9d9"/></g>
<g transform="translate(621.0,434.4) rotate(-8.3) scale(1.08,0.983)"><path d="M0,0 C-3.5,3.5 -6.5,8 -6,11 C-5.5,13 -2.5,13.5 0,12.5 C2.5,13.5 5.5,13 6,11 C6.5,8 3.5,3.5 0,0 Z" fill="#808080"/><path d="M0,2.5 L-1.5,11 L1.2,11 Z" fill="#d9d9d9"/><path d="M-1.5,12 L-7,20.5 L-3,21.5 L-8.5,30.5 L-4,31.5 L-6.5,38.5" fill="none" stroke="#808080" stroke-width="3"/><path d="M1.5,12 L5.5,19.5 L2,21 L6.5,29 L2.5,31 L4.5,38.5" fill="none" stroke="#808080" stroke-width="3"/><path d="M-1,52 C-5.5,48.5 -9,44 -8.5,40 C-8,37.5 -4,37 -1,38.5 C2,37 6,37.5 6.5,40 C7,44 3.5,48.5 -1,52 Z" fill="#808080"/><path d="M-1,50 L-2.5,40.5 L0.5,40.5 Z" fill="#d9d9d9"/></g>
<g transform="translate(642.0,439.0) rotate(-6.5) scale(1.08,1.002)"><path d="M0,0 C-3.5,3.5 -6.5,8 -6,11 C-5.5,13 -2.5,13.5 0,12.5 C2.5,13.5 5.5,13 6,11 C6.5,8 3.5,3.5 0,0 Z" fill="#808080"/><path d="M0,2.5 L-1.5,11 L1.2,11 Z" fill="#d9d9d9"/><path d="M-1.5,12 L-7,20.5 L-3,21.5 L-8.5,30.5 L-4,31.5 L-6.5,38.5" fill="none" stroke="#808080" stroke-width="3"/><path d="M1.5,12 L5.5,19.5 L2,21 L6.5,29 L2.5,31 L4.5,38.5" fill="none" stroke="#808080" stroke-width="3"/><path d="M-1,52 C-5.5,48.5 -9,44 -8.5,40 C-8,37.5 -4,37 -1,38.5 C2,37 6,37.5 6.5,40 C7,44 3.5,48.5 -1,52 Z" fill="#808080"/><path d="M-1,50 L-2.5,40.5 L0.5,40.5 Z" fill="#d9d9d9"/></g>
<g transform="translate(660.0,443.6) rotate(-8.3) scale(1.08,0.981)"><path d="M0,0 C-3.5,3.5 -6.5,8 -6,11 C-5.5,13 -2.5,13.5 0,12.5 C2.5,13.5 5.5,13 6,11 C6.5,8 3.5,3.5 0,0 Z" fill="#808080"/><path d="M0,2.5 L-1.5,11 L1.2,11 Z" fill="#d9d9d9"/><path d="M-1.5,12 L-7,20.5 L-3,21.5 L-8.5,30.5 L-4,31.5 L-6.5,38.5" fill="none" stroke="#808080" stroke-width="3"/><path d="M1.5,12 L5.5,19.5 L2,21 L6.5,29 L2.5,31 L4.5,38.5" fill="none" stroke="#808080" stroke-width="3"/><path d="M-1,52 C-5.5,48.5 -9,44 -8.5,40 C-8,37.5 -4,37 -1,38.5 C2,37 6,37.5 6.5,40 C7,44 3.5,48.5 -1,52 Z" fill="#808080"/><path d="M-1,50 L-2.5,40.5 L0.5,40.5 Z" fill="#d9d9d9"/></g>
<path d="M383,388.5 L395,383.5 L392.5,379.5 L407,375 L404.5,371.5 L421,367.5" fill="none" stroke="#808080" stroke-width="3"/>
<path d="M380,389.5 L389,382 L392,386 Z" fill="#808080"/>
<path d="M507,405 C510,401.5 516,402 515.5,408 C514,418 506,435 500,448 L498.5,447.5 C500,432 503,415 507,405 Z" fill="#fff"/>
<path d="M500,448 L515,443.5 C516.5,443.5 516.5,445 515.5,445.5 L501,449.5 Z" fill="#fff"/>
<path d="M533,470 L535.5,470.5 L531,488 L529.5,487.5 Z" fill="#fff"/>
<path d="M419,452 L441.5,462 L440.5,464.5 L418,454 Z" fill="#fff"/>
<line x1="176" y1="322" x2="186" y2="353" stroke="#000" stroke-width="2"/>
<line x1="38" y1="379" x2="55" y2="428" stroke="#7f7f7f" stroke-width="2"/>
<line x1="386" y1="358" x2="404" y2="374" stroke="#000" stroke-width="2"/>
<line x1="675.5" y1="139.4" x2="701.5" y2="199.8" stroke="#7f7f7f" stroke-width="2"/>
<line x1="1107.6" y1="470.6" x2="1123.4" y2="497.9" stroke="#7f7f7f" stroke-width="2"/>
<line x1="427.6" y1="233.2" x2="409.1" y2="245.8" stroke="#000" stroke-width="4"/>
<path d="M403.3,249.7 L408.8,239.9 L409.1,245.8 L414.4,248.2 Z" fill="#000"/>
<circle cx="427.6" cy="233.2" r="6.3" fill="url(#oball)"/>
<line x1="474.6" y1="277.9" x2="461.0" y2="294.4" stroke="#000" stroke-width="4"/>
<path d="M456.5,299.8 L459.0,288.9 L461.0,294.4 L466.7,295.3 Z" fill="#000"/>
<circle cx="474.6" cy="277.9" r="7.5" fill="url(#oball)"/>
<line x1="403.3" y1="321.0" x2="393.0" y2="330.9" stroke="#000" stroke-width="4"/>
<path d="M387.9,335.7 L391.7,325.2 L393.0,330.9 L398.6,332.4 Z" fill="#000"/>
<circle cx="403.3" cy="321" r="6.5" fill="url(#oball)"/>
<line x1="326.2" y1="367.3" x2="325.1" y2="377.6" stroke="#000" stroke-width="4"/>
<path d="M324.3,384.6 L320.4,374.1 L325.1,377.6 L330.4,375.2 Z" fill="#000"/>
<circle cx="326.2" cy="367.3" r="6.5" fill="url(#oball)"/>
<circle cx="452.3" cy="351.8" r="6.5" fill="url(#oball)"/>
<line x1="565.5" y1="249.5" x2="544.6" y2="261.1" stroke="#000" stroke-width="4"/>
<path d="M538.5,264.5 L544.8,255.3 L544.6,261.1 L549.7,264.0 Z" fill="#000"/>
<circle cx="565.5" cy="249.5" r="9" fill="url(#oball)"/>
<line x1="613.4" y1="220.8" x2="594.7" y2="213.1" stroke="#000" stroke-width="4"/>
<path d="M588.2,210.4 L599.4,209.6 L594.7,213.1 L595.5,218.8 Z" fill="#000"/>
<circle cx="613.4" cy="220.8" r="6" fill="url(#oball)"/>
<line x1="658.3" y1="205.8" x2="645.2" y2="182.7" stroke="#000" stroke-width="4"/>
<path d="M641.8,176.6 L651.1,182.8 L645.2,182.7 L642.4,187.8 Z" fill="#000"/>
<circle cx="658.3" cy="205.8" r="6" fill="url(#oball)"/>
<line x1="684.2" y1="231.7" x2="679.5" y2="200.4" stroke="#000" stroke-width="4"/>
<path d="M678.4,193.5 L684.8,202.6 L679.5,200.4 L675.0,204.1 Z" fill="#000"/>
<circle cx="684.2" cy="231.7" r="6" fill="url(#oball)"/>
<line x1="658.7" y1="256.0" x2="636.3" y2="264.9" stroke="#000" stroke-width="4"/>
<path d="M629.8,267.5 L637.2,259.2 L636.3,264.9 L640.9,268.4 Z" fill="#000"/>
<circle cx="658.7" cy="256" r="3" fill="url(#oball)"/>
<line x1="706.8" y1="253.9" x2="681.7" y2="261.6" stroke="#000" stroke-width="4"/>
<path d="M675.0,263.6 L683.1,255.9 L681.7,261.6 L686.0,265.5 Z" fill="#000"/>
<circle cx="706.8" cy="253.9" r="3" fill="url(#oball)"/>
<line x1="730.2" y1="327.0" x2="719.2" y2="344.1" stroke="#000" stroke-width="4"/>
<path d="M715.4,350.0 L716.6,338.9 L719.2,344.1 L725.0,344.3 Z" fill="#000"/>
<circle cx="730.2" cy="327" r="6" fill="url(#oball)"/>
<circle cx="588" cy="373" r="8.7" fill="url(#oball)"/>
<line x1="989.4" y1="152.0" x2="987.1" y2="121.3" stroke="#000" stroke-width="4"/>
<path d="M986.6,114.3 L992.3,123.9 L987.1,121.3 L982.4,124.6 Z" fill="#000"/>
<circle cx="989.4" cy="152" r="11" fill="url(#gball2)"/>
<line x1="1015.5" y1="152.0" x2="1025.0" y2="121.0" stroke="#000" stroke-width="4"/>
<path d="M1027.0,114.3 L1028.9,125.3 L1025.0,121.0 L1019.3,122.4 Z" fill="#000"/>
<circle cx="1015.5" cy="152" r="6.2" fill="url(#gball2)"/>
<line x1="1029.9" y1="175.8" x2="1053.8" y2="163.0" stroke="#000" stroke-width="4"/>
<path d="M1060.0,159.7 L1053.5,168.8 L1053.8,163.0 L1048.8,160.0 Z" fill="#000"/>
<circle cx="1029.9" cy="175.8" r="9" fill="url(#gball2)"/>
<line x1="914.0" y1="265.0" x2="930.2" y2="233.7" stroke="#000" stroke-width="4"/>
<path d="M933.4,227.5 L933.2,238.7 L930.2,233.7 L924.4,234.1 Z" fill="#000"/>
<circle cx="914" cy="265" r="12" fill="url(#gball2)"/>
<line x1="951.3" y1="262.2" x2="974.8" y2="249.6" stroke="#000" stroke-width="4"/>
<path d="M981.0,246.3 L974.5,255.4 L974.8,249.6 L969.8,246.6 Z" fill="#000"/>
<circle cx="951.3" cy="262.2" r="9" fill="url(#gball2)"/>
<line x1="934.8" y1="283.9" x2="951.0" y2="299.8" stroke="#000" stroke-width="4"/>
<path d="M956.0,304.7 L945.4,301.3 L951.0,299.8 L952.4,294.1 Z" fill="#000"/>
<circle cx="934.8" cy="283.9" r="9" fill="url(#gball2)"/>
<line x1="1026.5" y1="249.7" x2="1043.7" y2="275.2" stroke="#000" stroke-width="4"/>
<path d="M1047.6,281.0 L1037.9,275.5 L1043.7,275.2 L1046.2,269.9 Z" fill="#000"/>
<circle cx="1026.5" cy="249.7" r="9.5" fill="url(#gball2)"/>
<line x1="1086.6" y1="307.6" x2="1099.8" y2="339.5" stroke="#000" stroke-width="4"/>
<path d="M1102.5,346.0 L1094.1,338.7 L1099.8,339.5 L1103.3,334.8 Z" fill="#000"/>
<circle cx="1086.6" cy="307.6" r="12" fill="url(#gball2)"/>
<text x="98" y="322" font-size="19" fill="#000" text-anchor="start" >Surface deformation</text>
<text x="0" y="350" font-size="19" fill="#787878" text-anchor="start" >Surface</text>
<text x="0" y="373" font-size="19" fill="#787878" text-anchor="start" >finish</text>
<text x="95" y="462" font-size="19" fill="#595959" text-anchor="start" >Lack-of-fusion</text>
<text x="280.5" y="478.6" font-size="19" fill="#595959" text-anchor="start" >Crack</text>
<text x="286.5" y="353.8" font-size="19" fill="#000" text-anchor="start" >Solidification</text>
<text x="418.5" y="222.8" font-size="19" fill="#c55a11" text-anchor="start" >Melt jet</text>
<text x="644" y="110" font-size="19" fill="#787878" text-anchor="start" >Metal</text>
<text x="644" y="134" font-size="19" fill="#787878" text-anchor="start" >vapour</text>
<text x="732" y="85.4" font-size="19" fill="#ff0000" text-anchor="start" >Laser</text>
<text x="732" y="109.7" font-size="19" fill="#ff0000" text-anchor="start" >beam</text>
<text x="823" y="130.5" font-size="19" fill="#0e2a66" text-anchor="start" >Scanning</text>
<text x="823" y="153.6" font-size="19" fill="#0e2a66" text-anchor="start" >direction</text>
<text x="941.3" y="207.1" font-size="19" fill="#787878" text-anchor="start" >Particle entrainment</text>
<text x="941.5" y="229.8" font-size="19" fill="#787878" text-anchor="start" >due to gas expansion</text>
<text x="882" y="312.2" font-size="19" fill="#bf9000" text-anchor="start" >Plasma</text>
<text x="882" y="335.3" font-size="19" fill="#bf9000" text-anchor="start" >plume</text>
<text x="722.5" y="388.5" font-size="19" fill="#c55a11" text-anchor="start" >Melt pool</text>
<text x="851" y="430.7" font-size="19" fill="#ff0000" text-anchor="start" >Laser</text>
<text x="851" y="453.9" font-size="19" fill="#ff0000" text-anchor="start" >reflection</text>
<text x="787" y="490" font-size="19" fill="#05abeb" text-anchor="start" >Thermal fluid convection</text>
<text x="677.4" y="493.6" font-size="19" fill="#595959" text-anchor="start" >Gas pore</text>
<text x="1043.6" y="434.7" font-size="19" fill="#787878" text-anchor="start" >Second phase</text>
<text x="1043.6" y="457.6" font-size="19" fill="#787878" text-anchor="start" >precipitation</text>
<text x="404.5" y="475.7" font-size="17.1" fill="#7f6000" text-anchor="start" >Intrinsic heat</text>
<text x="404.5" y="496.3" font-size="17.1" fill="#7f6000" text-anchor="start" >treatment in heat-affected zone</text>
</svg></body></html>
